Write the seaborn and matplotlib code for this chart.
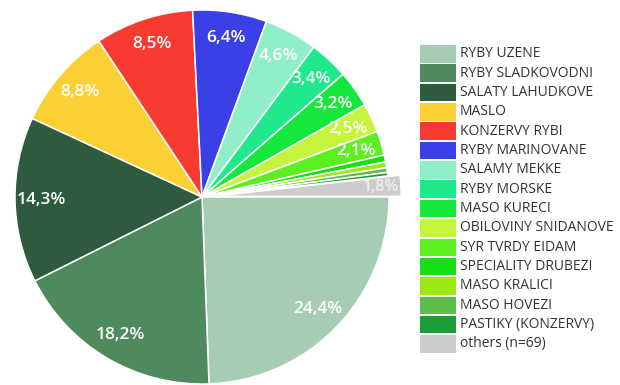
import matplotlib
matplotlib.use("Agg")
import matplotlib.pyplot as plt
from matplotlib.patches import Rectangle
import seaborn as sns

categories = [
    "RYBY UZENE", "RYBY SLADKOVODNI", "SALATY LAHUDKOVE", "MASLO",
    "KONZERVY RYBI", "RYBY MARINOVANE", "SALAMY MEKKE", "RYBY MORSKE",
    "MASO KURECI", "OBILOVINY SNIDANOVE", "SYR TVRDY EIDAM",
    "SPECIALITY DRUBEZI", "MASO KRALICI", "MASO HOVEZI",
    "PASTIKY (KONZERVY)", "others (n=69)",
]
shares = [24.4, 18.2, 14.3, 8.8, 8.5, 6.4, 4.6, 3.4,
          3.2, 2.5, 2.1, 0.6, 0.5, 0.4, 0.3, 1.8]
colors = [
    "#a6cdb3", "#4e8a5e", "#2e5a3e", "#fcd035", "#f73b30", "#3b3fe6",
    "#90efc8", "#20e88c", "#14e83c", "#c6f43c", "#5cef22", "#16df16",
    "#9ce812", "#5dbd4a", "#1b9d37", "#cccccc",
]
label_min = 1.8

sns.set_theme(style="white")
plt.rcParams["font.family"] = ["Open Sans", "DejaVu Sans"]

W, H = 620, 385
fig = plt.figure(figsize=(W / 100, H / 100), dpi=100)
fig.patch.set_facecolor("white")

cx, cy, r = 202, 197, 187
ax = fig.add_axes([(cx - r) / W, (H - cy - r) / H, 2 * r / W, 2 * r / H])

palette = sns.color_palette(colors)
explode = [0.0] * (len(shares) - 1) + [0.065]


def fmt(p):
    return (f"{p:.1f}".replace(".", ",") + "%") if p >= label_min - 0.05 else ""


wedges, texts, autotexts = ax.pie(
    shares, colors=palette, startangle=0, counterclock=False,
    explode=explode, autopct=fmt, pctdistance=0.86, radius=1.0,
    wedgeprops=dict(edgecolor="white", linewidth=1.1),
    textprops=dict(color="white", fontsize=12.5, fontweight="semibold"),
)
ax.set_xlim(-1, 1)
ax.set_ylim(-1, 1)
ax.set_axis_off()
for w in wedges:
    w.set_clip_on(False)
for t in autotexts:
    t.set_clip_on(False)

# the exploded "others" label sits near the rim, in a pale tone
x, y = autotexts[-1].get_position()
autotexts[-1].set_position((x * 1.035, y * 1.035))
autotexts[-1].set_color("#eeeeee")
autotexts[-1].set_fontsize(11.5)

# legend column
lx, top, sw, sh, pitch = 420, 45, 36, 17.5, 19.35
for i, (name, col) in enumerate(zip(categories, palette)):
    y0 = top + i * pitch
    fig.add_artist(Rectangle((lx / W, (H - y0 - sh) / H), sw / W, sh / H,
                             transform=fig.transFigure, facecolor=col,
                             edgecolor="none"))
    fig.text((lx + sw + 4) / W, (H - y0 - sh / 2) / H, name,
             fontsize=10, color="#333333", va="center", ha="left")

fig.savefig("out.png", dpi=100, facecolor="white")
